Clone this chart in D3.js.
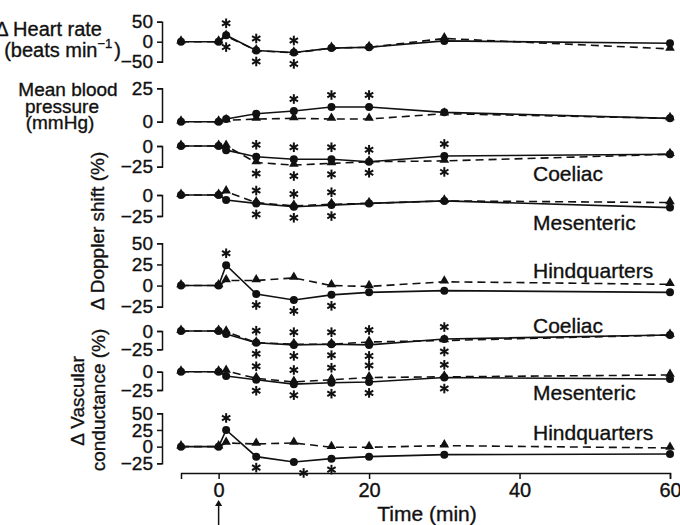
<!DOCTYPE html>
<html>
<head>
<meta charset="utf-8">
<script src="https://cdn.jsdelivr.net/npm/d3@7/dist/d3.min.js"></script>
<style>
  html, body { margin: 0; padding: 0; background: #fff; }
  svg { display: block; font-family: "Liberation Sans", Arial, sans-serif; }
  .lbl { font-size: 19px; fill: #111; stroke: #111; stroke-width: 0.35px; }
</style>
</head>
<body>
<div id="chart"></div>
<script>
// time points (min)
const times = [-5, 0, 1, 5, 10, 15, 20, 30, 60];

// solid line (circles) and dashed line (triangles) per panel
const hrSolid = [0, 0, 16, -22, -27, -16, -14, 2, -4];
const hrDashed = [0, 0, 14, -22, -28, -16, -14, 8, -18];
const mbpSolid = [0, 0, 2, 6, 8, 11, 11, 7, 2.5];
const mbpDashed = [0, 0, 1, 2, 2.5, 2, 2, 6, 2.5];
const coelDopSolid = [0, 0, -5, -13, -16, -16, -19, -12, -10];
const coelDopDashed = [0, 0, 0, -20, -23, -21, -19, -18, -10];
const mesDopSolid = [0, 0, -6, -10, -14, -12, -10, -7, -15];
const mesDopDashed = [0, 0, 4, -9, -13, -11, -10, -7, -9];
const hindDopSolid = [0, 0, 24, -10, -17, -11, -8, -6, -8];
const hindDopDashed = [0, 0, 6, 6, 9, 0, -1, 4.5, 1.5];
const coelVCSolid = [0, 0, -4, -16, -19, -18, -19, -11, -5.5];
const coelVCDashed = [0, 0, -1, -16, -18, -18, -15, -13, -5.5];
const mesVCSolid = [0, 0, -6, -11, -17, -15, -14, -8, -10];
const mesVCDashed = [0, 0, 1, -9, -14, -11, -8, -7, -4.5];
const hindVCSolid = [0, 0, 25, -15, -23, -18, -15, -12, -11];
const hindVCDashed = [0, 0, 5.5, 4, 5.5, -1, -1, 1.5, -2];

// significance asterisks: [time, 'a'bove | 'b'elow, time of the point it belongs to]
const hrStars = [[1, 'a'], [1, 'b'], [5, 'a'], [5, 'b'], [10, 'a'], [10, 'b']];
const mbpStars = [[10, 'a'], [15, 'a'], [20, 'a']];
const coelDopStars = [5, 10, 15, 20, 30].flatMap(t => [[t, 'a'], [t, 'b']]);
const mesDopStars = [5, 10, 15].flatMap(t => [[t, 'a'], [t, 'b']]);
const hindDopStars = [[1, 'a'], [5, 'b'], [10, 'b'], [15, 'b']];
const coelVCStars = [5, 10, 15, 20, 30].flatMap(t => [[t, 'a'], [t, 'b']]);
const mesVCStars = [5, 10, 15, 20, 30].flatMap(t => [[t, 'a'], [t, 'b']]);
const hindVCStars = [[1, 'a'], [5, 'b'], [11.3, 'b', 10], [15, 'b']];

const xTicks = [0, 20, 40, 60];

const width = 680, height = 525;
const svg = d3.select('#chart').append('svg')
  .attr('width', width).attr('height', height)
  .attr('viewBox', `0 0 ${width} ${height}`);

const x = d3.scaleLinear().domain([-5, 60]).range([181, 670]);

// panel layout: y domain -> pixel range
const panels = [
  { solid: hrSolid, dashed: hrDashed, stars: hrStars, domain: [-50, 50], range: [61.7, 21.7], ticks: [-50, 0, 50] },
  { solid: mbpSolid, dashed: mbpDashed, stars: mbpStars, domain: [0, 25], range: [121.7, 88.3], ticks: [0, 25] },
  { solid: coelDopSolid, dashed: coelDopDashed, stars: coelDopStars, domain: [-25, 0], range: [166.7, 146], ticks: [-25, 0], name: 'Coeliac', ny: 173 },
  { solid: mesDopSolid, dashed: mesDopDashed, stars: mesDopStars, domain: [-25, 0], range: [216, 195], ticks: [-25, 0], name: 'Mesenteric', ny: 222 },
  { solid: hindDopSolid, dashed: hindDopDashed, stars: hindDopStars, domain: [-25, 50], range: [306.7, 243.3], ticks: [-25, 0, 25, 50], name: 'Hindquarters', ny: 270 },
  { solid: coelVCSolid, dashed: coelVCDashed, stars: coelVCStars, domain: [-25, 0], range: [349.3, 331], ticks: [-25, 0], name: 'Coeliac', ny: 325 },
  { solid: mesVCSolid, dashed: mesVCDashed, stars: mesVCStars, domain: [-25, 0], range: [390, 371.7], ticks: [-25, 0], name: 'Mesenteric', ny: 392 },
  { solid: hindVCSolid, dashed: hindVCDashed, stars: hindVCStars, domain: [-25, 50], range: [463.3, 413.3], ticks: [-25, 0, 25, 50], name: 'Hindquarters', ny: 432 }
];

const tri = d3.symbol().type(d3.symbolTriangle).size(40);
const starArm = 4.8;

panels.forEach(p => {
  const y = d3.scaleLinear().domain(p.domain).range(p.range);
  const g = svg.append('g');

  const axis = d3.axisLeft(y).tickValues(p.ticks).tickSize(5).tickSizeOuter(5).tickPadding(4);
  g.append('g')
    .attr('transform', 'translate(162,0)')
    .call(axis)
    .call(a => a.selectAll('path, line').attr('stroke', '#111').attr('stroke-width', 1.5))
    .call(a => a.selectAll('text').attr('class', 'lbl').attr('font-size', null).attr('font-family', null));

  const line = d3.line().x((d, i) => x(times[i])).y(d => y(d));

  g.append('path').datum(p.dashed)
    .attr('d', line).attr('fill', 'none')
    .attr('stroke', '#111').attr('stroke-width', 1.6).attr('stroke-dasharray', '8,5');
  g.append('path').datum(p.solid)
    .attr('d', line).attr('fill', 'none')
    .attr('stroke', '#111').attr('stroke-width', 1.6);

  g.selectAll('path.tri').data(p.dashed).join('path')
    .attr('class', 'tri')
    .attr('d', tri)
    .attr('transform', (d, i) => `translate(${x(times[i])},${y(d) - 1})`)
    .attr('fill', '#111');
  g.selectAll('circle').data(p.solid).join('circle')
    .attr('cx', (d, i) => x(times[i])).attr('cy', d => y(d))
    .attr('r', 4).attr('fill', '#111');

  // asterisks
  p.stars.forEach(([t, side, at]) => {
    const idx = times.indexOf(at ?? t);
    const ys = [y(p.solid[idx]), y(p.dashed[idx])];
    const cy = side === 'a' ? d3.min(ys) - 12 : d3.max(ys) + 11;
    const cx = x(t);
    const s = g.append('g').attr('transform', `translate(${cx},${cy})`);
    [90, 30, -30].forEach(ang => {
      const r = ang * Math.PI / 180;
      s.append('line')
        .attr('x1', -starArm * Math.cos(r)).attr('y1', -starArm * Math.sin(r))
        .attr('x2', starArm * Math.cos(r)).attr('y2', starArm * Math.sin(r))
        .attr('stroke', '#111').attr('stroke-width', 2);
    });
  });

  if (p.name) {
    g.append('text').attr('class', 'lbl')
      .attr('x', 533).attr('y', p.ny)
      .attr('dominant-baseline', 'central')
      .style('font-size', '21px')
      .text(p.name);
  }
});

// x axis
const xAxis = d3.axisBottom(x).tickValues(xTicks).tickSize(6).tickSizeOuter(6).tickPadding(4);
svg.append('g')
  .attr('transform', 'translate(0,473)')
  .call(xAxis)
  .call(a => a.selectAll('path, line').attr('stroke', '#111').attr('stroke-width', 1.5))
  .call(a => a.selectAll('text').attr('class', 'lbl').attr('font-size', null).attr('font-family', null).style('font-size', '20px'));

svg.append('text').attr('class', 'lbl')
  .attr('x', 427).attr('y', 513)
  .attr('text-anchor', 'middle').attr('dominant-baseline', 'central')
  .style('font-size', '21px')
  .text('Time (min)');

// injection arrow
svg.append('line')
  .attr('x1', x(0)).attr('x2', x(0)).attr('y1', 504).attr('y2', 525)
  .attr('stroke', '#111').attr('stroke-width', 1.5);
svg.append('path')
  .attr('d', d3.symbol().type(d3.symbolTriangle).size(22))
  .attr('transform', `translate(${x(0)},504)`)
  .attr('fill', '#111');

// left labels
const lab = (txt, px, py, anchor) => svg.append('text').attr('class', 'lbl')
  .attr('x', px).attr('y', py).attr('text-anchor', anchor)
  .attr('dominant-baseline', 'central').text(txt);

const hr1 = svg.append('text').attr('class', 'lbl')
  .attr('x', 102).attr('y', 29).attr('text-anchor', 'end')
  .attr('dominant-baseline', 'central')
  .style('font-size', '20px')
  .text('Δ Heart rate');
const hr2 = svg.append('text').attr('class', 'lbl')
  .attr('x', 121).attr('y', 50).attr('text-anchor', 'end')
  .attr('dominant-baseline', 'central')
  .style('font-size', '20px');
hr2.append('tspan').text('(beats min');
hr2.append('tspan').attr('dy', -7).style('font-size', '13px').text('−1');
hr2.append('tspan').attr('dy', 7).attr('dx', 2).text(')');

lab('Mean blood', 68, 89, 'middle');
lab('pressure', 62, 106, 'middle');
lab('(mmHg)', 60, 122, 'middle');

svg.append('text').attr('class', 'lbl')
  .attr('transform', 'translate(97,231) rotate(-90)')
  .attr('text-anchor', 'middle').attr('dominant-baseline', 'central')
  .text('Δ Doppler shift (%)');

svg.append('text').attr('class', 'lbl')
  .attr('transform', 'translate(77,401) rotate(-90)')
  .attr('text-anchor', 'middle').attr('dominant-baseline', 'central')
  .text('Δ Vascular');
svg.append('text').attr('class', 'lbl')
  .attr('transform', 'translate(98,400) rotate(-90)')
  .attr('text-anchor', 'middle').attr('dominant-baseline', 'central')
  .text('conductance (%)');
</script>
</body>
</html>
